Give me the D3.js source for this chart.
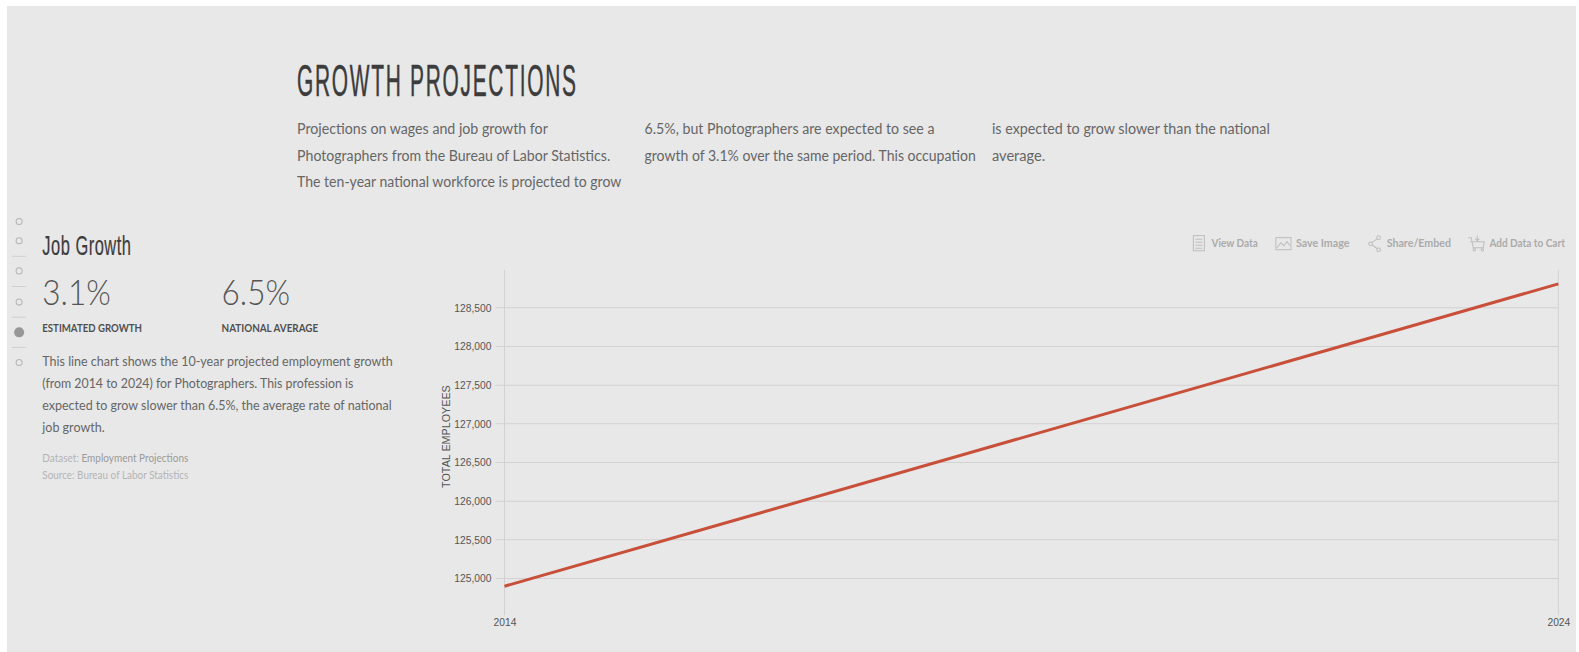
<!DOCTYPE html>
<html><head><meta charset="utf-8">
<script src="https://cdn.jsdelivr.net/npm/d3@7"></script>
<style>
html,body{margin:0;padding:0;background:#fff;overflow:hidden}
svg{display:block}
</style></head><body>
<svg id="c" width="1579" height="652"></svg>
<script>
const years = [2014, 2024];
const employees = [124900, 128810];
const yTicks = [125000, 125500, 126000, 126500, 127000, 127500, 128000, 128500];
const titleText = "GROWTH PROJECTIONS";
const introCols = [
 ["Projections on wages and job growth for","Photographers from the Bureau of Labor Statistics.","The ten-year national workforce is projected to grow"],
 ["6.5%, but Photographers are expected to see a","growth of 3.1% over the same period. This occupation"],
 ["is expected to grow slower than the national","average."]
];
const bodyLines = ["This line chart shows the 10-year projected employment growth","(from 2014 to 2024) for Photographers. This profession is","expected to grow slower than 6.5%, the average rate of national","job growth."];
const toolbar = ["View Data","Save Image","Share/Embed","Add Data to Cart"];

const root = d3.select("#c");
root.append("rect").attr("x",7).attr("y",6).attr("width",1569).attr("height",646).attr("fill","#e8e8e8");
const svg = root.append("g").attr("transform","scale(1.00702)");
const SERIF = "Lato, 'Open Sans', sans-serif";
const NARROW = "'Liberation Sans Narrow', 'Liberation Sans', sans-serif";
const ARIAL = "'Liberation Sans', Arial, sans-serif";

function txt(x,y,s,o){
  const t = svg.append("text").attr("x",x).attr("y",y).text(s)
    .attr("font-family",o.f||SERIF).attr("font-size",o.s).attr("fill",o.c||"#555")
    .attr("font-weight",o.w||400);
  if(o.len) t.attr("textLength",o.len).attr("lengthAdjust","spacingAndGlyphs");
  return t;
}
// Condensed heading: glyphs are squeezed to fit, with open letter spacing kept.
function squeezed(x,y,s,size,spacing,len,c,sw){
  const t = svg.append("text").text(s)
    .attr("font-family",NARROW).attr("font-size",size).attr("fill",c)
    .attr("stroke",c).attr("stroke-width",sw);
  const natural = t.node().getComputedTextLength();
  const sx = (len - spacing*(s.length-1))/natural;
  t.attr("transform",`translate(${x},${y}) scale(${sx},1)`)
   .attr("letter-spacing",spacing/sx);
}
// Header
squeezed(295,95.5,titleText,44,1.7,277,"#3c3c3c",0.5);
const colX=[295,640,985], lens=[[249,311,322],[288,329],[276,53]];
introCols.forEach((col,i)=>col.forEach((l,j)=>txt(colX[i],133+j*26.5,l,{s:14.5,c:"#666",len:lens[i][j]})));

// Side nav
const dots=[220,239,269,300,330,360];
dots.forEach((y,i)=>svg.append("circle").attr("cx",19).attr("cy",y)
  .attr("r",i===4?5:3).attr("fill",i===4?"#969696":"none")
  .attr("stroke",i===4?"none":"#b4b4b4").attr("stroke-width",1));
[254.5,284.5,315,345].forEach(y=>svg.append("line").attr("x1",12).attr("x2",26).attr("y1",y).attr("y2",y).attr("stroke","#cfcfcf"));

// Left panel
squeezed(42,253.5,"Job Growth",27,0.5,88,"#3c3c3c",0.2);
txt(42,303,"3.1%",{s:36,c:"#555",w:300,len:68});
txt(220,303,"6.5%",{s:36,c:"#555",w:300,len:68});
txt(42,330,"ESTIMATED GROWTH",{s:10.5,c:"#505050",w:700,len:99});
txt(220,330,"NATIONAL AVERAGE",{s:10.5,c:"#505050",w:700,len:96});
const bodyLen=[348,309,347,62];
bodyLines.forEach((l,i)=>txt(42,363+i*22.1,l,{s:13.5,c:"#666",len:bodyLen[i]}));
const dl=svg.append("text").attr("x",42).attr("y",459).attr("font-family",SERIF).attr("font-size",10.5)
  .attr("textLength",145).attr("lengthAdjust","spacingAndGlyphs");
dl.append("tspan").attr("fill","#b4b4b4").text("Dataset: ");
dl.append("tspan").attr("fill","#9a9a9a").text("Employment Projections");
txt(42,476,"Source: Bureau of Labor Statistics",{s:10.5,c:"#b4b4b4",len:145});

// Toolbar
const tbX=[1203,1287,1377,1479], tbLen=[46,53,64,75];
toolbar.forEach((l,i)=>txt(tbX[i],245.5,l,{s:10.5,c:"#ababab",w:700,len:tbLen[i]}));
const ic=svg.append("g").attr("fill","none").attr("stroke","#bdbdbd").attr("stroke-width",1);
ic.append("rect").attr("x",1185).attr("y",234).attr("width",11).attr("height",15);
[238,241,244,247].forEach(y=>ic.append("line").attr("x1",1187).attr("x2",1194).attr("y1",y-.5).attr("y2",y-.5));
ic.append("rect").attr("x",1267).attr("y",236).attr("width",15).attr("height",12);
ic.append("path").attr("d","M1268 246L1272 241L1275 244L1278 240L1281 244");
ic.append("path").attr("d","M1369 236L1361 242L1369 248");
[[1369,236],[1361,242],[1369,248]].forEach(p=>ic.append("circle").attr("cx",p[0]).attr("cy",p[1]).attr("r",1.8).attr("fill","#e8e8e8"));
ic.append("path").attr("d","M1458 236h3l2 10h10l1 -6h-14M1467 234v5M1465 237l2 2l2 -2");
ic.append("circle").attr("cx",1464).attr("cy",248).attr("r",1.2);
ic.append("circle").attr("cx",1472).attr("cy",248).attr("r",1.2);

// Chart
const x=d3.scaleLinear().domain(d3.extent(years)).range([501,1547.5]);
const y=d3.scaleLinear().domain([125000,128500]).range([574.5,305.7]);
const g=svg.append("g");
const yAxis=d3.axisLeft(y).tickValues(yTicks).tickFormat(d3.format(",")).tickSize(0).tickPadding(0);
const ya=g.append("g").attr("transform","translate(488,0)").call(yAxis);
ya.select(".domain").remove();
ya.selectAll("text").attr("font-family",ARIAL).attr("font-size",10.2).attr("fill","#555");
g.append("g").selectAll("line").data(yTicks).join("line")
  .attr("x1",492).attr("x2",1547.5).attr("y1",d=>y(d)).attr("y2",d=>y(d))
  .attr("stroke","#d2d2d2").attr("stroke-width",1);
g.append("g").selectAll("line").data(years).join("line")
  .attr("x1",d=>x(d)).attr("x2",d=>x(d)).attr("y1",268).attr("y2",611)
  .attr("stroke","#d2d2d2").attr("stroke-width",1);
const xAxis=d3.axisBottom(x).tickValues(years).tickFormat(d3.format("d")).tickSize(0).tickPadding(0);
const xa=g.append("g").attr("transform","translate(0,612)").call(xAxis);
xa.select(".domain").remove();
xa.selectAll("text").attr("font-family",ARIAL).attr("font-size",10.2).attr("fill","#555").attr("dy","0.95em");
g.append("text").attr("transform","translate(447,433.5) rotate(-90)").attr("text-anchor","middle")
  .attr("font-family",ARIAL).attr("font-size",10.7).attr("fill","#555").text("TOTAL EMPLOYEES");
const line=d3.line().x((d,i)=>x(years[i])).y(d=>y(d));
g.append("path").datum(employees).attr("d",line).attr("fill","none").attr("stroke","#c8503a").attr("stroke-width",3);
</script>
</body></html>
